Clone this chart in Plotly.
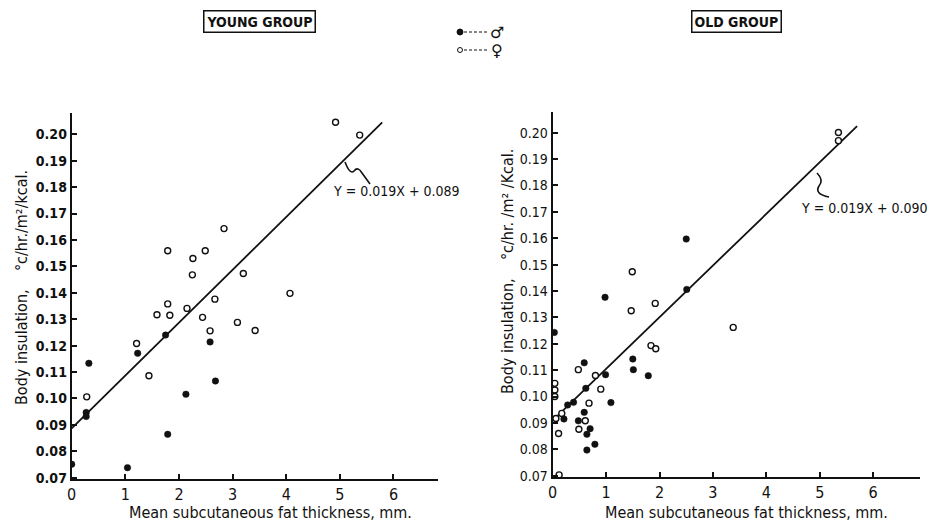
import plotly.graph_objects as go

# ---------------- data ----------------
young_female_x = [4.92, 5.37, 2.84, 1.79, 2.49, 2.26, 2.25, 3.20, 4.07, 2.67, 1.79,
                  2.15, 1.59, 1.83, 2.44, 3.09, 2.58, 3.42, 1.21, 1.44, 0.28]
young_female_y = [0.2046, 0.1997, 0.1643, 0.1559, 0.1559, 0.1530, 0.1468, 0.1473,
                  0.1398, 0.1376, 0.1358, 0.1341, 0.1317, 0.1315, 0.1307, 0.1288,
                  0.1256, 0.1257, 0.1208, 0.1086, 0.1006]
young_male_x = [0.32, 1.23, 1.75, 2.58, 2.68, 2.13, 1.79, 1.04, 0.00, 0.27, 0.27]
young_male_y = [0.1133, 0.1171, 0.1240, 0.1214, 0.1066, 0.1016, 0.0864, 0.0738,
                0.0751, 0.0947, 0.0932]
young_fit_x = [0.0, 5.79]
young_fit_y = [0.0887, 0.2045]

old_female_x = [5.35, 5.35, 1.49, 1.92, 1.47, 3.38, 1.84, 1.93, 0.48, 0.80, 0.90,
                0.68, 0.61, 0.49, 0.11, 0.12, 0.04, 0.04, 0.04, 0.17, 0.06]
old_female_y = [0.2001, 0.1970, 0.1473, 0.1353, 0.1325, 0.1262, 0.1193, 0.1181,
                0.1102, 0.1080, 0.1028, 0.0975, 0.0908, 0.0876, 0.0860, 0.0703,
                0.1050, 0.1025, 0.1000, 0.0936, 0.0917]
old_male_x = [2.50, 2.51, 0.98, 0.03, 1.50, 1.51, 1.79, 0.59, 0.99, 0.62, 1.09,
              0.39, 0.28, 0.59, 0.21, 0.48, 0.70, 0.64, 0.79, 0.64]
old_male_y = [0.1597, 0.1406, 0.1376, 0.1243, 0.1142, 0.1102, 0.1079, 0.1128,
              0.1083, 0.1031, 0.0977, 0.0978, 0.0968, 0.0940, 0.0915, 0.0908,
              0.0878, 0.0857, 0.0819, 0.0797]
old_fit_x = [0.07, 5.70]
old_fit_y = [0.0923, 0.2025]

y_ticks = [0.07, 0.08, 0.09, 0.10, 0.11, 0.12, 0.13, 0.14, 0.15, 0.16, 0.17,
           0.18, 0.19, 0.20]
y_tick_labels = ["0.07", "0.08", "0.09", "0.10", "0.11", "0.12", "0.13", "0.14",
                 "0.15", "0.16", "0.17", "0.18", "0.19", "0.20"]
x_ticks = [0, 1, 2, 3, 4, 5, 6]
x_tick_labels = ["0", "1", "2", "3", "4", "5", "6"]

young_eq = "Y = 0.019X + 0.089"
old_eq = "Y = 0.019X + 0.090"
x_title = "Mean subcutaneous fat thickness, mm."
young_y_title = "Body insulation,\u00a0\u00a0\u00a0 °c/hr./m²/kcal."
old_y_title = "Body insulation,\u00a0\u00a0\u00a0 °c/hr. /m² /Kcal."

# ---------------- styling ----------------
W, H = 934, 525
FONT = "DejaVu Sans Condensed, Liberation Sans Narrow, DejaVu Sans, sans-serif"
INK = "#111111"


def px(x):
    return x / W


def py(y):
    return 1 - y / H


fig = go.Figure()

open_marker = dict(symbol="circle", size=6, color="white",
                   line=dict(color=INK, width=1.4))
filled_marker = dict(symbol="circle", size=6.5, color=INK,
                     line=dict(color=INK, width=0.5))

for xa, ya, fx, fy, fem_x, fem_y, mal_x, mal_y in [
    ("x", "y", young_fit_x, young_fit_y, young_female_x, young_female_y,
     young_male_x, young_male_y),
    ("x2", "y2", old_fit_x, old_fit_y, old_female_x, old_female_y,
     old_male_x, old_male_y),
]:
    fig.add_trace(go.Scatter(x=fx, y=fy, mode="lines", xaxis=xa, yaxis=ya,
                             line=dict(color=INK, width=1.8), showlegend=False,
                             hoverinfo="skip"))
    fig.add_trace(go.Scatter(x=fem_x, y=fem_y, mode="markers", xaxis=xa, yaxis=ya,
                             marker=open_marker, name="♀", showlegend=False))
    fig.add_trace(go.Scatter(x=mal_x, y=mal_y, mode="markers", xaxis=xa, yaxis=ya,
                             marker=filled_marker, name="♂", showlegend=False))

axis_common = dict(showgrid=False, zeroline=False, showline=True, linecolor=INK,
                   linewidth=2, ticks="inside", ticklen=5, tickwidth=1.5,
                   tickcolor=INK, automargin=False)

fig.update_layout(
    width=W, height=H,
    margin=dict(l=0, r=0, t=0, b=0, pad=0),
    paper_bgcolor="white", plot_bgcolor="white",
    showlegend=False,
    font=dict(family=FONT, color=INK),
    xaxis=dict(domain=[px(71.7), px(438)], range=[0, 6.83], anchor="y",
               tickvals=x_ticks, ticktext=x_tick_labels,
               tickfont=dict(family=FONT, size=16, color=INK), **axis_common),
    yaxis=dict(domain=[py(479), py(113.2)], range=[0.0695, 0.208], anchor="x",
               tickvals=y_ticks, ticktext=y_tick_labels,
               tickfont=dict(family=FONT, size=14, color=INK, weight="bold"),
               **axis_common),
    xaxis2=dict(domain=[px(552.7), px(919.6)], range=[0, 6.87], anchor="y2",
                tickvals=x_ticks, ticktext=x_tick_labels,
                tickfont=dict(family=FONT, size=16, color=INK), **axis_common),
    yaxis2=dict(domain=[py(477), py(112.4)], range=[0.0695, 0.2077], anchor="x2",
                tickvals=y_ticks, ticktext=y_tick_labels,
                tickfont=dict(family=FONT, size=14, color=INK), **axis_common),
)


def label(x, y, text, size, weight="normal", angle=0, family=FONT, **kw):
    return dict(x=px(x), y=py(y), xref="paper", yref="paper", text=text,
                xanchor="center", yanchor="middle", showarrow=False,
                textangle=angle,
                font=dict(family=family, size=size, color=INK, weight=weight), **kw)


ann = [
    # headers
    label(259.5, 21, "YOUNG GROUP", 14, "bold", bordercolor=INK, borderwidth=1.5,
          borderpad=2),
    label(736, 21, "OLD GROUP", 14, "bold", bordercolor=INK, borderwidth=1.5,
          borderpad=2),
    # legend symbols
    label(497, 32, "♂", 16, family="DejaVu Sans"),
    label(497, 50, "♀", 16, family="DejaVu Sans"),
    # axis titles
    label(270, 512, x_title, 16),
    label(746, 512, x_title, 16),
    label(21, 288, young_y_title, 16, angle=-90),
    label(507, 272, old_y_title, 16, angle=-90),
    # regression equations
    label(396, 191, young_eq, 14),
    label(864, 208, old_eq, 14),
]
fig.update_layout(annotations=ann)


def ppath(cmds):
    out = []
    for c in cmds:
        if isinstance(c, str):
            out.append(c)
        else:
            out.append(f"{px(c[0]):.5f},{py(c[1]):.5f}")
    return " ".join(out)


shapes = []
# legend marks
shapes.append(dict(type="circle", xref="paper", yref="paper",
                   x0=px(457), x1=px(463), y0=py(35), y1=py(29),
                   fillcolor=INK, line=dict(color=INK, width=1)))
shapes.append(dict(type="line", xref="paper", yref="paper",
                   x0=px(464), x1=px(488), y0=py(32), y1=py(32),
                   line=dict(color=INK, width=1, dash="3px,2px")))
shapes.append(dict(type="circle", xref="paper", yref="paper",
                   x0=px(457.5), x1=px(462.5), y0=py(52.5), y1=py(47.5),
                   fillcolor="white", line=dict(color=INK, width=1)))
shapes.append(dict(type="line", xref="paper", yref="paper",
                   x0=px(464), x1=px(488), y0=py(50), y1=py(50),
                   line=dict(color=INK, width=1, dash="3px,2px")))
# squiggly leaders
shapes.append(dict(type="path", xref="paper", yref="paper",
                   path=ppath(["M", (345, 162), "Q", (350, 175), (354, 171),
                               "Q", (358, 166), (362, 173), "L", (370, 184)]),
                   line=dict(color=INK, width=1.6)))
shapes.append(dict(type="path", xref="paper", yref="paper",
                   path=ppath(["M", (817, 173), "Q", (824, 180), (819, 186),
                               "Q", (814, 194), (829, 197)]),
                   line=dict(color=INK, width=1.6)))
fig.update_layout(shapes=shapes)

fig.write_html(
    "out.html",
    config={"displayModeBar": False},
    post_script="document.body.style.margin='0px';"
                "document.body.style.overflow='hidden';",
)
